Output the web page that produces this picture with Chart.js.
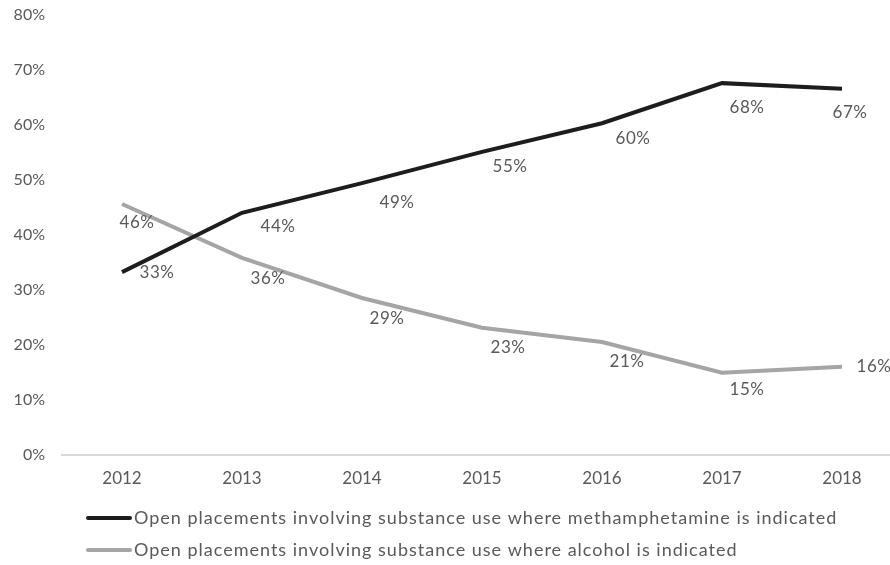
<!DOCTYPE html>
<html>
<head>
<meta charset="utf-8">
<script src="https://cdn.jsdelivr.net/npm/chart.js@4/dist/chart.umd.min.js"></script>
<style>
  html, body { margin: 0; padding: 0; background: #fff; overflow: hidden; }
  #wrap { width: 890px; height: 565px; }
</style>
</head>
<body>
<div id="wrap"><canvas id="chart" width="890" height="565"></canvas></div>
<script>
// Data
const years = [2012, 2013, 2014, 2015, 2016, 2017, 2018];
const methValues = [33.2, 44.0, 49.4, 55.1, 60.3, 67.6, 66.6];
const alcoholValues = [45.6, 35.8, 28.5, 23.1, 20.5, 14.9, 16.0];
const methLabels = ['33%', '44%', '49%', '55%', '60%', '68%', '67%'];
const alcoholLabels = ['46%', '36%', '29%', '23%', '21%', '15%', '16%'];
const yTicks = [0, 10, 20, 30, 40, 50, 60, 70, 80];
const seriesNames = [
  'Open placements involving substance use where methamphetamine is indicated',
  'Open placements involving substance use where alcohol is indicated'
];

const textColor = '#595959';
const fontFamily = 'Lato, "Open Sans", sans-serif';

// Draws the value labels next to each point
const pointLabels = {
  id: 'pointLabels',
  afterDatasetsDraw(chart, args, opts) {
    const ctx = chart.ctx;
    ctx.save();
    ctx.font = `17px ${fontFamily}`;
    ctx.letterSpacing = '0.5px';
    ctx.fillStyle = textColor;
    ctx.textAlign = 'center';
    ctx.textBaseline = 'middle';
    chart.data.datasets.forEach((ds, i) => {
      const meta = chart.getDatasetMeta(i);
      const offs = opts.offsets[i];
      meta.data.forEach((pt, j) => {
        ctx.fillText(ds.valueLabels[j], pt.x + offs[j][0], pt.y + offs[j][1]);
      });
    });
    ctx.restore();
  }
};

// Left-aligned legend stacked under the axis
const stackedLegend = {
  id: 'stackedLegend',
  afterDraw(chart, args, opts) {
    const ctx = chart.ctx;
    ctx.save();
    ctx.font = `18px ${fontFamily}`;
    ctx.letterSpacing = '1px';
    ctx.textBaseline = 'middle';
    chart.data.datasets.forEach((ds, i) => {
      const y = opts.top + i * opts.rowGap;
      ctx.strokeStyle = ds.borderColor;
      ctx.lineWidth = 4;
      ctx.lineCap = 'round';
      ctx.beginPath();
      ctx.moveTo(opts.left, y);
      ctx.lineTo(opts.left + opts.lineLength, y);
      ctx.stroke();
      ctx.fillStyle = textColor;
      ctx.fillText(ds.label, opts.left + opts.lineLength + 4, y);
    });
    ctx.restore();
  }
};

const toPoints = (vals) => vals.map((v, i) => ({ x: years[i], y: v }));

new Chart(document.getElementById('chart'), {
  type: 'line',
  data: {
    datasets: [
      {
        label: seriesNames[0],
        data: toPoints(methValues),
        valueLabels: methLabels,
        borderColor: '#1f1c1d',
        borderWidth: 4,
        pointRadius: 0,
        tension: 0
      },
      {
        label: seriesNames[1],
        data: toPoints(alcoholValues),
        valueLabels: alcoholLabels,
        borderColor: '#a5a5a5',
        borderWidth: 4,
        pointRadius: 0,
        tension: 0
      }
    ]
  },
  options: {
    responsive: false,
    animation: false,
    layout: { padding: { top: 15, bottom: 62, left: 0, right: 0 } },
    plugins: {
      legend: { display: false },
      tooltip: { enabled: false },
      pointLabels: {
        offsets: [
          [[35, 0], [36, 14], [35, 19], [28, 15], [31, 15], [25, 24], [8, 24]],
          [[15, 18], [26, 21], [25, 21], [26, 20], [25, 20], [25, 17], [32, 0]]
        ]
      },
      stackedLegend: { left: 88, top: 518, rowGap: 32, lineLength: 42 }
    },
    scales: {
      x: {
        type: 'linear',
        min: 2011.5,
        max: 2018.4,
        grid: { display: false, drawTicks: false },
        border: { display: true, color: '#d9d9d9', width: 2 },
        afterBuildTicks: (scale) => { scale.ticks = years.map(v => ({ value: v })); },
        afterFit: (scale) => { scale.paddingLeft = 0; scale.paddingRight = 0; },
        ticks: {
          color: textColor,
          font: { family: fontFamily, size: 17 },
          padding: 14,
          callback: (v) => String(v)
        }
      },
      y: {
        min: 0,
        max: 80,
        grid: { display: false, drawTicks: false },
        border: { display: false },
        afterBuildTicks: (scale) => { scale.ticks = yTicks.map(v => ({ value: v })); },
        afterFit: (scale) => { scale.width = 62; scale.paddingTop = 0; scale.paddingBottom = 0; },
        ticks: {
          color: textColor,
          font: { family: fontFamily, size: 16 },
          padding: 17,
          callback: (v) => v + '%'
        }
      }
    }
  },
  plugins: [pointLabels, stackedLegend]
});
</script>
</body>
</html>
